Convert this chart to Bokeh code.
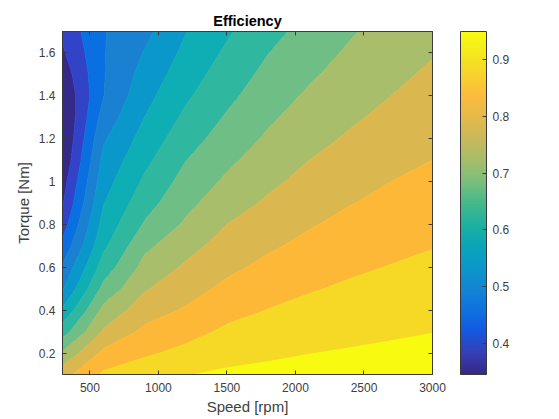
import numpy as np
from bokeh.embed import file_html
from bokeh.models import ColorBar, FixedTicker, LinearAxis, LinearColorMapper, Range1d
from bokeh.plotting import figure
from bokeh.resources import INLINE

speed_rpm = [300, 600, 900, 1200, 1500, 1800, 2100, 2400, 2700, 3000]
torque_nm = [0.1, 0.2, 0.3, 0.4, 0.5, 0.6, 0.7, 0.8, 0.9, 1.0, 1.1, 1.2, 1.3, 1.4, 1.5, 1.6, 1.7]

eff_t01 = [.830, .908, .926, .948, .958, .962, .966, .970, .973, .975]
eff_t02 = [.757, .862, .893, .912, .932, .942, .949, .954, .958, .961]
eff_t03 = [.677, .806, .861, .884, .908, .921, .931, .938, .944, .949]
eff_t04 = [.607, .764, .828, .855, .885, .901, .913, .922, .930, .936]
eff_t05 = [.545, .715, .795, .831, .861, .881, .896, .907, .916, .923]
eff_t06 = [.506, .673, .766, .807, .839, .862, .879, .892, .902, .910]
eff_t07 = [.462, .640, .739, .783, .820, .843, .862, .877, .888, .898]
eff_t08 = [.425, .618, .705, .757, .800, .825, .846, .863, .875, .886]
eff_t09 = [.395, .598, .680, .737, .778, .807, .830, .848, .862, .874]
eff_t10 = [.378, .580, .658, .718, .758, .790, .814, .834, .850, .862]
eff_t11 = [.357, .563, .638, .699, .740, .773, .800, .820, .838, .850]
eff_t12 = [.347, .544, .619, .679, .722, .757, .785, .806, .825, .839]
eff_t13 = [.345, .520, .600, .660, .705, .742, .771, .793, .812, .828]
eff_t14 = [.352, .499, .584, .642, .688, .727, .757, .781, .800, .817]
eff_t15 = [.370, .497, .568, .627, .673, .713, .743, .769, .790, .807]
eff_t16 = [.392, .497, .553, .612, .658, .699, .730, .757, .780, .797]
eff_t17 = [.412, .497, .537, .598, .643, .685, .716, .745, .770, .787]

levels = [.34, .40, .45, .50, .55, .60, .65, .70, .75, .80, .85, .90, .95, 1.0]
band_colors = ["#352A87", "#3243C8", "#0A6FE0", "#1A80D2", "#0A98CA", "#0FAEB4", "#2FB7A0",
               "#6EBE85", "#A8BE6A", "#DBB84F", "#FEB838", "#F5D925", "#F8FA0F"]

speed_ticks = [500, 1000, 1500, 2000, 2500, 3000]
torque_ticks = [0.2, 0.4, 0.6, 0.8, 1.0, 1.2, 1.4, 1.6]
torque_labels = ["0.2", "0.4", "0.6", "0.8", "1", "1.2", "1.4", "1.6"]
cbar_ticks = [0.4, 0.5, 0.6, 0.7, 0.8, 0.9]
cbar_low, cbar_high = 0.345, 0.95

parula = ["#352A87", "#363FB5", "#1359E0", "#0F72E0", "#1485D4", "#0B98C8", "#0AA5B8", "#1DB1A0",
          "#44B98A", "#7ABF7C", "#A5BE6A", "#C7B95C", "#E5B94A", "#FCBB3E", "#F8D22C", "#F5E81E", "#F9FB0E"]


def hex_rgb(h):
    return [int(h[i:i + 2], 16) for i in (1, 3, 5)]


rgb = np.array([hex_rgb(h) for h in parula], dtype=float)
pos = np.linspace(0, 1, len(parula))
fine = np.linspace(0, 1, 256)
palette = ["#%02x%02x%02x" % tuple(int(round(np.interp(t, pos, rgb[:, k]))) for k in range(3)) for t in fine]

z = np.array([eff_t01, eff_t02, eff_t03, eff_t04, eff_t05, eff_t06, eff_t07, eff_t08, eff_t09,
              eff_t10, eff_t11, eff_t12, eff_t13, eff_t14, eff_t15, eff_t16, eff_t17])

FONT = "Liberation Sans"
INK = "#404040"
EDGE = "#3a3a3a"

p = figure(output_backend="svg", toolbar_location=None, width=543, height=403,
           x_range=Range1d(300, 3000), y_range=Range1d(0.1, 1.7),
           min_border_left=62, min_border_right=10, min_border_top=31, min_border_bottom=37,
           frame_width=370, frame_height=343, background_fill_color="white",
           outline_line_color=EDGE, outline_line_width=1)
p.grid.visible = False

p.contour(speed_rpm, torque_nm, z, levels, fill_color=band_colors,
          line_color=band_colors + [band_colors[-1]], line_width=1)

p.title.text = "Efficiency"
p.title.align = "center"
p.title.text_font = FONT
p.title.text_font_size = "14.5px"
p.title.text_font_style = "bold"
p.title.text_color = "#000000"
p.title.standoff = 6

for ax, ticks in ((p.xaxis[0], speed_ticks), (p.yaxis[0], torque_ticks)):
    ax.ticker = FixedTicker(ticks=ticks)
    ax.major_tick_in = 4
    ax.major_tick_out = 0
    ax.minor_tick_in = 0
    ax.minor_tick_out = 0
    ax.axis_line_color = EDGE
    ax.major_tick_line_color = EDGE
    ax.major_label_text_font = FONT
    ax.major_label_text_font_size = "12px"
    ax.major_label_text_color = INK
    ax.axis_label_text_font = FONT
    ax.axis_label_text_font_size = "15px"
    ax.axis_label_text_font_style = "normal"
    ax.axis_label_text_color = INK

p.xaxis[0].axis_label = "Speed [rpm]"
p.yaxis[0].axis_label = "Torque [Nm]"
p.xaxis[0].major_label_standoff = 8
p.yaxis[0].major_label_standoff = 7
p.xaxis[0].axis_label_standoff = 3
p.yaxis[0].axis_label_standoff = 4
p.yaxis[0].major_label_overrides = dict(zip(torque_ticks, torque_labels))

top = LinearAxis(ticker=FixedTicker(ticks=speed_ticks), major_tick_in=4, major_tick_out=0,
                 minor_tick_in=0, minor_tick_out=0, axis_line_color=EDGE, major_tick_line_color=EDGE,
                 major_label_overrides={t: "" for t in speed_ticks}, major_label_standoff=0)
right = LinearAxis(ticker=FixedTicker(ticks=torque_ticks), major_tick_in=4, major_tick_out=0,
                   minor_tick_in=0, minor_tick_out=0, axis_line_color=EDGE, major_tick_line_color=EDGE,
                   major_label_overrides={t: "" for t in torque_ticks}, major_label_standoff=0)
p.add_layout(top, "above")
p.add_layout(right, "right")

mapper = LinearColorMapper(palette=palette, low=cbar_low, high=cbar_high)
cb = ColorBar(color_mapper=mapper, ticker=FixedTicker(ticks=cbar_ticks), width=26, height=343,
              location=(28, 0), padding=0, margin=0, major_tick_in=4, major_tick_line_color=EDGE,
              major_label_text_font=FONT, major_label_text_font_size="12px",
              major_label_text_color=INK, bar_line_color=EDGE, bar_line_width=1,
              minor_tick_line_color=None, label_standoff=6, background_fill_color=None,
              border_line_color=None)
p.add_layout(cb, "right")

open("out.html", "w").write(file_html(p, INLINE))
